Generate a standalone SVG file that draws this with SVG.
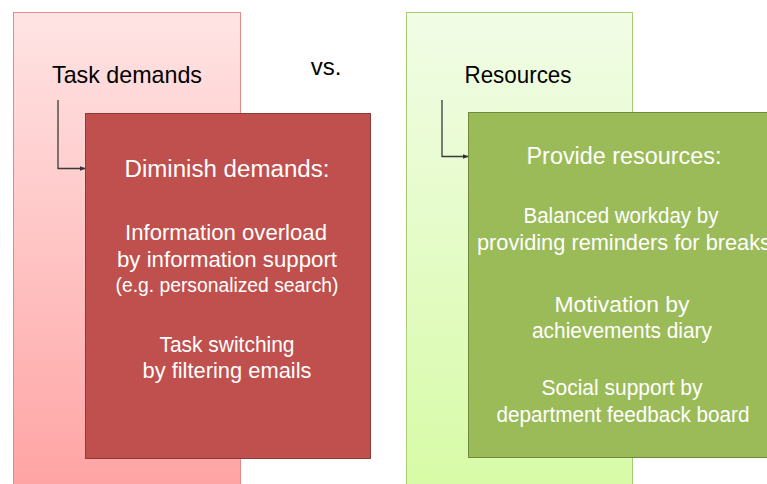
<svg xmlns="http://www.w3.org/2000/svg" width="767" height="484" viewBox="0 0 767 484">
<defs>
<linearGradient id="gRed" x1="0" y1="0" x2="0" y2="1">
<stop offset="0" stop-color="#FFE4E4"/>
<stop offset="1" stop-color="#FFA3A3"/>
</linearGradient>
<linearGradient id="gGreen" x1="0" y1="0" x2="0" y2="1">
<stop offset="0" stop-color="#F1FCE6"/>
<stop offset="1" stop-color="#D7FBA6"/>
</linearGradient>
<marker id="arr" viewBox="0 0 8 8" refX="7" refY="4" markerWidth="6" markerHeight="6" orient="auto" markerUnits="userSpaceOnUse">
<path d="M0,1 L8,4 L0,7 Z" fill="#333"/>
</marker>
<style>
text{font-family:"Liberation Sans",Arial,sans-serif;text-anchor:middle}
.h{font-size:24px;fill:#000}
.t{font-size:23px;fill:#fff}
.b{font-size:22px;fill:#fff}
.s{font-size:20px;fill:#fff}
.conn{fill:none;stroke:#3a3a3a;stroke-width:1.3}
</style>
</defs>
<rect width="767" height="484" fill="#fff"/>
<g id="task-demands">
<rect x="13.5" y="12.5" width="227" height="480" fill="url(#gRed)" stroke="#E38A8A" stroke-width="1"/>
<text class="h" x="127" y="83" textLength="150" lengthAdjust="spacingAndGlyphs">Task demands</text>
</g>
<g id="vs">
<text class="h" x="326" y="75">vs.</text>
</g>
<g id="resources">
<rect x="406.5" y="12.5" width="226" height="480" fill="url(#gGreen)" stroke="#A9CB72" stroke-width="1"/>
<text class="h" x="518" y="83" textLength="107" lengthAdjust="spacingAndGlyphs">Resources</text>
</g>
<g id="connectors">
<path class="conn" d="M58,100 V168.5 H85" marker-end="url(#arr)"/>
<path class="conn" d="M442,100 V156.5 H468" marker-end="url(#arr)"/>
</g>
<g id="diminish-demands">
<rect x="85.5" y="113.5" width="285" height="345" fill="#C0504D" stroke="#8E3A38" stroke-width="1"/>
<text class="t" x="227" y="177" textLength="205" lengthAdjust="spacingAndGlyphs">Diminish demands:</text>
<text class="b" x="226" y="240" textLength="202" lengthAdjust="spacingAndGlyphs">Information overload</text>
<text class="b" x="227" y="267" textLength="220" lengthAdjust="spacingAndGlyphs">by information support</text>
<text class="s" x="227" y="292" textLength="223" lengthAdjust="spacingAndGlyphs">(e.g. personalized search)</text>
<text class="b" x="227" y="352" textLength="135" lengthAdjust="spacingAndGlyphs">Task switching</text>
<text class="b" x="227" y="378" textLength="169" lengthAdjust="spacingAndGlyphs">by filtering emails</text>
</g>
<g id="provide-resources">
<rect x="468.5" y="112.5" width="320" height="345" fill="#9BBB59" stroke="#71893F" stroke-width="1"/>
<text class="t" x="624" y="164" textLength="195" lengthAdjust="spacingAndGlyphs">Provide resources:</text>
<text class="b" x="621" y="223" textLength="195" lengthAdjust="spacingAndGlyphs">Balanced workday by</text>
<text class="b" x="624" y="250" textLength="294" lengthAdjust="spacingAndGlyphs">providing reminders for breaks</text>
<text class="b" x="622" y="312" textLength="135" lengthAdjust="spacingAndGlyphs">Motivation by</text>
<text class="b" x="622" y="338" textLength="180" lengthAdjust="spacingAndGlyphs">achievements diary</text>
<text class="b" x="622" y="395" textLength="161" lengthAdjust="spacingAndGlyphs">Social support by</text>
<text class="b" x="623" y="422" textLength="253" lengthAdjust="spacingAndGlyphs">department feedback board</text>
</g>
</svg>
